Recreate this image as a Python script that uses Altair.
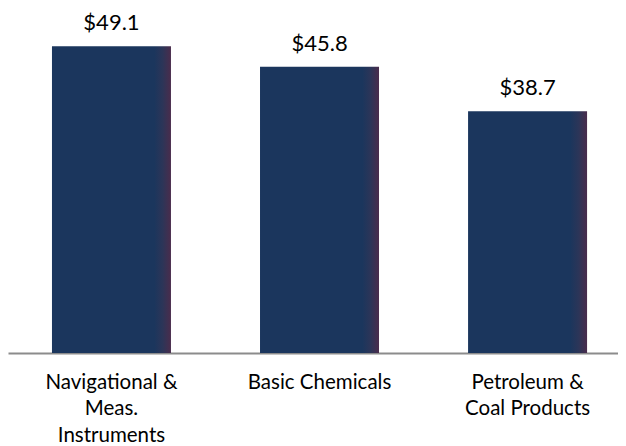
import altair as alt
import pandas as pd

categories = ["Navigational &\nMeas.\nInstruments", "Basic Chemicals", "Petroleum &\nCoal Products"]
values = [49.1, 45.8, 38.7]
value_labels = ["$49.1", "$45.8", "$38.7"]

df = pd.DataFrame({"category": categories, "value": values, "label": value_labels})

FONT = "Lato"

x_enc = alt.X(
    "category:N",
    sort=None,
    title=None,
    scale=alt.Scale(paddingInner=0.428, paddingOuter=0.18, align=0.587),
    axis=alt.Axis(
        labelAngle=0,
        labelExpr="split(datum.value, '\\n')",
        ticks=False,
        domainColor="#8c8c8c",
        domainWidth=2,
        labelFont=FONT,
        labelFontSize=20.5,
        labelColor="#000000",
        labelPadding=19,
        labelLineHeight=26.5,
        labelBaseline="top",
        labelLimit=0,
    ),
)
y_enc = alt.Y("value:Q", scale=alt.Scale(domain=[0, 54.72]), axis=None)

bars = alt.Chart(df).mark_bar(
    color=alt.Gradient(
        gradient="linear",
        x1=0, x2=1, y1=0, y2=0,
        stops=[
            alt.GradientStop(color="#1b365d", offset=0),
            alt.GradientStop(color="#1b365d", offset=0.86),
            alt.GradientStop(color="#2c3558", offset=0.93),
            alt.GradientStop(color="#4a2c4c", offset=1),
        ],
    )
).encode(x=x_enc, y=y_enc)

texts = alt.Chart(df).mark_text(
    dy=-16, baseline="alphabetic", font=FONT, fontSize=22, color="#000000"
).encode(x=x_enc, y=y_enc, text="label:N")

chart = alt.layer(bars, texts).properties(
    width=610, height=342, padding={"top": 3, "left": 0, "right": 0, "bottom": 0}
).configure_view(stroke=None)

chart.save("out.html", embed_options={"renderer": "svg", "actions": False})
